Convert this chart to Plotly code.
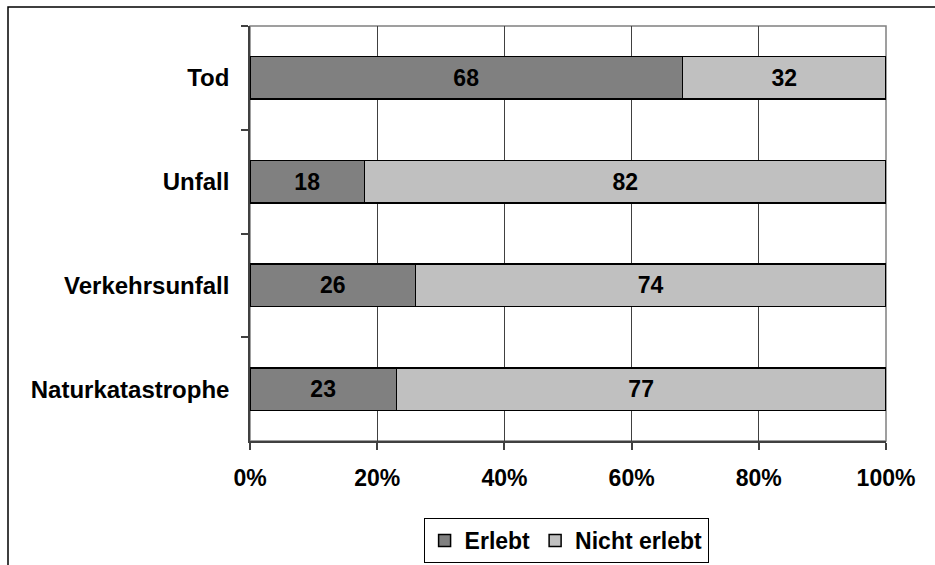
import plotly.graph_objects as go

# Survey results: share of respondents who have experienced each event (%)
categories = ["Tod", "Unfall", "Verkehrsunfall", "Naturkatastrophe"]
erlebt = [68, 18, 26, 23]
nicht_erlebt = [32, 82, 74, 77]
x_ticks = [0, 20, 40, 60, 80, 100]
x_tick_labels = ["0%", "20%", "40%", "60%", "80%", "100%"]

FONT = "Arial, 'Liberation Sans', sans-serif"

fig = go.Figure()
for name, vals, color in [("Erlebt", erlebt, "#808080"),
                          ("Nicht erlebt", nicht_erlebt, "#C0C0C0")]:
    fig.add_trace(go.Bar(
        y=categories, x=vals, name=name, orientation="h",
        marker=dict(color=color, line=dict(color="#000000", width=1.5)),
        text=vals, texttemplate="%{text}", textposition="inside",
        insidetextanchor="middle", textangle=0,
        textfont=dict(family=FONT, size=23, color="#000000", weight="bold"),
        width=0.41,
    ))

# L-shaped outer frame (left and top edges of the chart area)
px_w, px_h = 636, 415
x_left = (8 - 250) / px_w
y_top = (441 - 7) / px_h
fig.add_shape(type="path", xref="paper", yref="paper",
              path=f"M {x_left} -0.6 L {x_left} {y_top} L 1.2 {y_top}",
              line=dict(color="#000000", width=1.5), layer="above")
# plot-area border (grey)
fig.add_shape(type="rect", xref="paper", yref="paper", x0=0, y0=0, x1=1, y1=1,
              line=dict(color="#808080", width=1.5), layer="below")

fig.update_layout(
    barmode="stack",
    width=935, height=565,
    margin=dict(l=250, r=49, t=26, b=124, autoexpand=False),
    paper_bgcolor="#FFFFFF", plot_bgcolor="#FFFFFF",
    font=dict(family=FONT, size=23, color="#000000", weight="bold"),
    showlegend=True,
    legend=dict(orientation="h", x=0.497, xanchor="center",
                yref="container", y=(565 - 518) / 565, yanchor="top",
                bordercolor="#000000", borderwidth=1, bgcolor="#FFFFFF",
                traceorder="normal",
                font=dict(family=FONT, size=23, color="#000000", weight="bold"),
                itemwidth=30, entrywidthmode="pixels"),
)

fig.update_xaxes(
    range=[0, 100], tickvals=x_ticks, ticktext=x_tick_labels,
    showgrid=True, gridcolor="#404040", gridwidth=1,
    showline=True, linecolor="#404040", linewidth=1.5,
    ticks="outside", ticklen=7, tickcolor="#404040", tickwidth=1.5,
    tickfont=dict(family=FONT, size=23, color="#000000", weight="bold"),
    zeroline=False, fixedrange=True, ticklabelstandoff=9,
)
fig.update_yaxes(
    autorange="reversed", type="category",
    tickson="boundaries", ticks="outside", ticklen=7,
    tickcolor="#404040", tickwidth=1.5,
    showline=True, linecolor="#404040", linewidth=1.5,
    showgrid=False, zeroline=False,
    tickfont=dict(family=FONT, size=24, color="#000000", weight="bold"),
    ticklabelstandoff=14,
)

fig.write_html("out.html")
